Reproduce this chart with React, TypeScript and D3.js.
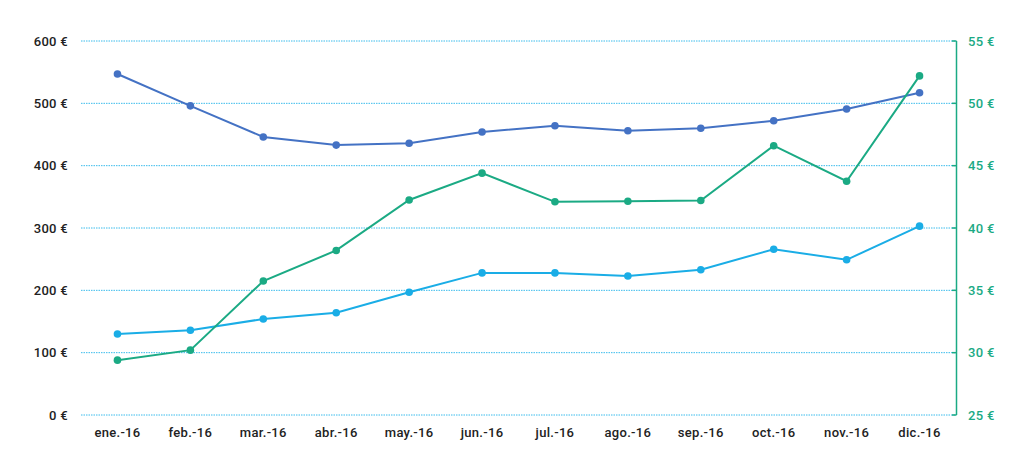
import React from "react";
import * as d3 from "d3";

const months = ["ene.-16","feb.-16","mar.-16","abr.-16","may.-16","jun.-16","jul.-16","ago.-16","sep.-16","oct.-16","nov.-16","dic.-16"];
const seriesDark = [547, 496, 446, 433, 436, 454, 464, 456, 460, 472, 491, 517];
const seriesLight = [130, 136, 154, 164, 197, 228, 228, 223, 233, 266, 249, 303];
const seriesGreen = [29.4, 30.2, 35.75, 38.2, 42.25, 44.4, 42.1, 42.15, 42.2, 46.6, 43.75, 52.2];
const leftTicks = [0, 100, 200, 300, 400, 500, 600];
const rightTicks = [25, 30, 35, 40, 45, 50, 55];

const W = 1024, H = 466;
const left = 81, right = 956, top = 41, bottom = 415;

export default function App() {
  const x = d3.scaleBand<string>().domain(months).range([left, right]);
  const yL = d3.scaleLinear().domain([0, 600]).range([bottom, top]);
  const yR = d3.scaleLinear().domain([25, 55]).range([bottom, top]);
  const cx = (m: string) => (x(m) as number) + x.bandwidth() / 2;
  const lineL = d3.line<number>().x((_, i) => cx(months[i])).y(d => yL(d));
  const lineR = d3.line<number>().x((_, i) => cx(months[i])).y(d => yR(d));
  const font = "Roboto, 'DejaVu Sans', sans-serif";
  const dark = "#4472C4", light = "#1AADE6", green = "#1BAA84";
  return (
    <svg width={W} height={H} style={{ position: "absolute", left: 0, top: 0, background: "#fff" }} fontFamily={font}>
      {leftTicks.map(t => (
        <g key={t}>
          <line x1={left} x2={right} y1={yL(t)} y2={yL(t)} stroke="#3BBCEC" strokeWidth={1} strokeDasharray="1.5,1" />
          <text x={68} y={yL(t)} dy="0.35em" textAnchor="end" fontSize={13} fontWeight={500} letterSpacing={0.3} fill="#222">{t} €</text>
        </g>
      ))}
      <line x1={right + 0.5} x2={right + 0.5} y1={top} y2={bottom} stroke={green} strokeWidth={1.5} />
      {rightTicks.map(t => (
        <g key={t}>
          <line x1={right - 4} x2={right + 0.5} y1={yR(t)} y2={yR(t)} stroke={green} strokeWidth={1.5} />
          <text x={968} y={yR(t)} dy="0.35em" textAnchor="start" fontSize={13} fontWeight={500} letterSpacing={0.3} fill={green}>{t} €</text>
        </g>
      ))}
      {months.map(m => (
        <text key={m} x={cx(m)} y={437} textAnchor="middle" fontSize={13} fontWeight={500} letterSpacing={0.3} fill="#222">{m}</text>
      ))}
      <path d={lineL(seriesDark) as string} fill="none" stroke={dark} strokeWidth={2} />
      {seriesDark.map((v, i) => <circle key={i} cx={cx(months[i])} cy={yL(v)} r={3.8} fill={dark} />)}
      <path d={lineL(seriesLight) as string} fill="none" stroke={light} strokeWidth={2} />
      {seriesLight.map((v, i) => <circle key={i} cx={cx(months[i])} cy={yL(v)} r={3.8} fill={light} />)}
      <path d={lineR(seriesGreen) as string} fill="none" stroke={green} strokeWidth={2} />
      {seriesGreen.map((v, i) => <circle key={i} cx={cx(months[i])} cy={yR(v)} r={3.8} fill={green} />)}
    </svg>
  );
}
